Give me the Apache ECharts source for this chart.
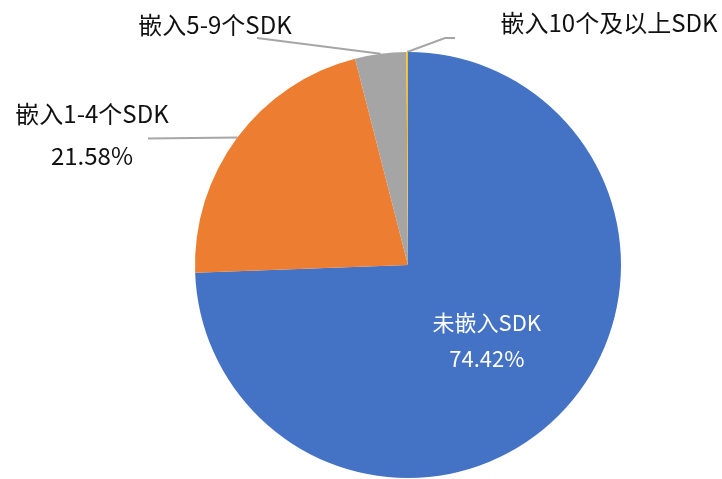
<!DOCTYPE html>
<html>
<head>
    <meta charset="utf-8">
    <script src="https://cdn.jsdelivr.net/npm/echarts@6/dist/echarts.min.js"></script>
</head>
<body style="margin:0;background:#fff;">
<div id="main" style="width:722px;height:479px;"></div>
<script type="text/javascript">
// 各类SDK嵌入情况占比
var categories = ['未嵌入SDK', '嵌入1-4个SDK', '嵌入5-9个SDK', '嵌入10个及以上SDK'];
var values = [74.42, 21.58, 3.88, 0.12];
var colors = ['#4472C4', '#ED7D31', '#A5A5A5', '#FFC000'];

var chart = echarts.init(document.getElementById('main'));

var data = categories.map(function (name, i) {
    var item = { name: name, value: values[i], itemStyle: { color: colors[i] } };
    if (i === 0) {
        // 最大的扇区标签放在内部
        item.label = {
            position: 'inside',
            color: '#fff',
            fontSize: 22,
            lineHeight: 36,
            formatter: '{b}\n{d}%'
        };
        item.labelLine = { show: false };
    }
    return item;
});

var option = {
    backgroundColor: '#fff',
    animation: false,
    series: [{
        type: 'pie',
        center: [408, 265],
        radius: [0, 213],
        startAngle: 90,
        clockwise: true,
        avoidLabelOverlap: false,
        data: data,
        label: {
            position: 'outside',
            fontFamily: 'Noto Sans CJK SC',
            fontSize: 24,
            color: '#111',
            lineHeight: 42,
            formatter: function (p) {
                return p.dataIndex === 1 ? p.name + '\n' + p.percent.toFixed(2) + '%' : p.name;
            }
        },
        labelLine: {
            show: true,
            lineStyle: { color: '#A6A6A6', width: 2 }
        },
        labelLayout: function (p) {
            var s = p.labelLinePoints ? p.labelLinePoints[0] : null;
            if (p.dataIndex === 1) {
                return {
                    x: 92, y: 135, align: 'center', verticalAlign: 'middle',
                    labelLinePoints: [s, [s[0] - 45, s[1] + 0.5], [148, s[1] + 1]]
                };
            }
            if (p.dataIndex === 2) {
                return {
                    x: 215, y: 25, align: 'center', verticalAlign: 'middle',
                    labelLinePoints: [s, [257, 38], [257, 38]]
                };
            }
            if (p.dataIndex === 3) {
                return {
                    x: 609, y: 23, align: 'center', verticalAlign: 'middle',
                    labelLinePoints: [s, [445, 38], [455, 38]]
                };
            }
            return {};
        }
    }]
};

chart.setOption(option);
</script>
</body>
</html>
